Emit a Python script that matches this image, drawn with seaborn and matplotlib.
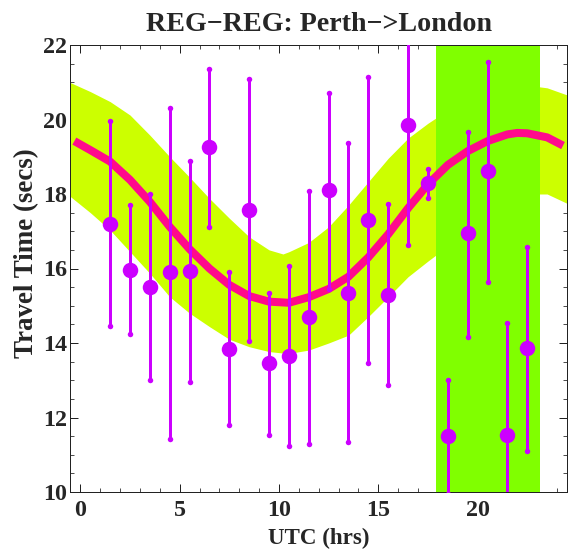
import matplotlib
matplotlib.use("Agg")
import matplotlib.pyplot as plt
import seaborn as sns
import pandas as pd
from matplotlib.ticker import MultipleLocator

# ---- data ----
hours = [1.5, 2.5, 3.5, 4.5, 5.5, 6.5, 7.5, 8.5, 9.5, 10.5, 11.5,
         12.5, 13.5, 14.5, 15.5, 16.5, 17.5, 18.5, 19.5, 20.5, 21.5, 22.5]
times = [17.2, 15.97, 15.5, 15.9, 15.92, 19.25, 13.85, 17.57, 13.45, 13.65, 14.71,
         18.1, 15.35, 17.3, 15.3, 19.84, 18.3, 11.5, 16.94, 18.62, 11.52, 13.87]
err_low = [14.45, 14.24, 13.0, 11.42, 12.96, 17.12, 11.8, 14.05, 11.52, 11.23, 11.28,
           15.45, 11.35, 13.45, 12.86, 16.63, 17.9, 9.95, 14.15, 15.63, 8.5, 11.1]
err_high = [19.97, 17.70, 17.99, 20.32, 18.89, 21.35, 15.91, 21.08, 15.33, 16.07, 18.08,
            20.70, 19.38, 21.13, 17.72, 23.0, 18.67, 13.01, 19.67, 21.55, 14.55, 16.59]

curve_x = [-0.3, 0.5, 1.5, 2.5, 3.5, 4.5, 5.5, 6.5, 7.5, 8.5, 9.5, 10.5, 11.5,
           12.5, 13.5, 14.5, 15.5, 16.5, 17.5, 18.5, 19.5, 20.5, 21.5, 22.0, 22.5, 23.5, 24.3]
curve_y = [19.42, 19.18, 18.87, 18.38, 17.79, 17.12, 16.52, 16.0, 15.56, 15.26, 15.11, 15.08, 15.23,
           15.45, 15.78, 16.3, 16.92, 17.62, 18.26, 18.78, 19.15, 19.42, 19.6, 19.64, 19.63, 19.52, 19.3]

band_x = [-0.5, 0.5, 1.5, 2.5, 3.5, 4.5, 5.5, 6.5, 7.5, 8.5, 9.5, 10.2, 10.5, 11.5,
          12.5, 13.5, 14.5, 15.5, 16.5, 17.5, 18.5, 19.5, 20.5, 21.5, 22.5, 23.5, 24.5]
band_upper = [20.99, 20.75, 20.48, 20.12, 19.58, 19.0, 18.45, 17.88, 17.35, 16.85, 16.5, 16.39, 16.45, 16.7,
              17.12, 17.70, 18.33, 18.96, 19.5, 19.9, 20.25, 20.55, 20.75, 20.88, 20.92, 20.85, 20.66]
band_lower = [17.93, 17.5, 17.03, 16.45, 15.87, 15.24, 14.80, 14.44, 14.1, 13.90, 13.77, 13.73, 13.72, 13.81,
              14.0, 14.21, 14.71, 15.24, 15.78, 16.2, 16.6, 17.05, 17.45, 17.8, 18.0, 18.0, 17.75]

highlight = [17.9, 23.15]

title = "REG\u2212REG: Perth\u2212>London"
xlabel = "UTC (hrs)"
ylabel = "Travel Time (secs)"

# ---- style ----
sns.set_style("ticks")
plt.rcParams['font.family'] = ['Liberation Serif', 'DejaVu Serif']
plt.rcParams['font.weight'] = 'bold'

fig = plt.figure(figsize=(8, 552 / 72), dpi=72)
ax = fig.add_axes([70 / 576, 1 - 492 / 552, 497 / 576, 447 / 552])

pts = pd.DataFrame({"hour": hours, "time": times, "lo": err_low, "hi": err_high})
curve = pd.DataFrame({"x": curve_x, "y": curve_y})

ax.fill_between(band_x, band_lower, band_upper, color="#CCFF00", lw=0, zorder=1)
ax.axvspan(highlight[0], highlight[1], color="#80FF00", lw=0, zorder=2)
sns.lineplot(data=curve, x="x", y="y", ax=ax, color="#FF0A8C", linewidth=8,
             sort=False, estimator=None, zorder=3, solid_capstyle="butt")
ax.vlines(pts["hour"], pts["lo"], pts["hi"], color="#CC00FF", linewidth=3, zorder=4)
ax.scatter(pts["hour"], pts["lo"], s=30, color="#CC00FF", zorder=4, lw=0)
ax.scatter(pts["hour"], pts["hi"], s=30, color="#CC00FF", zorder=4, lw=0)
sns.scatterplot(data=pts, x="hour", y="time", ax=ax, s=240, color="#CC00FF",
                linewidth=0, zorder=5)

ax.set_xlim(-0.52, 24.5)
ax.set_ylim(10, 22)
ax.xaxis.set_major_locator(MultipleLocator(5))
ax.xaxis.set_minor_locator(MultipleLocator(1))
ax.yaxis.set_major_locator(MultipleLocator(2))
ax.yaxis.set_minor_locator(MultipleLocator(0.5))
ax.tick_params(which="both", direction="in", top=True, right=True, color="#222222")
ax.tick_params(which="major", length=8, width=1, labelsize=24)
ax.tick_params(axis="y", which="major", pad=3)
ax.tick_params(axis="x", which="major", pad=8)
ax.tick_params(which="minor", length=4, width=0.8)
for lab in ax.get_xticklabels() + ax.get_yticklabels():
    lab.set_fontweight("bold")
for sp in ax.spines.values():
    sp.set_linewidth(1)
    sp.set_color("#222222")
    sp.set_visible(True)

ax.set_xlabel(xlabel, fontsize=23, fontweight="bold", labelpad=7)
ax.set_ylabel(ylabel, fontsize=27, fontweight="bold")
ax.yaxis.set_label_coords((39 - 70) / 497, (492 - 253) / 447)
ax.set_title(title, fontsize=28, fontweight="bold", pad=14)

fig.savefig("out.png", dpi=72)
